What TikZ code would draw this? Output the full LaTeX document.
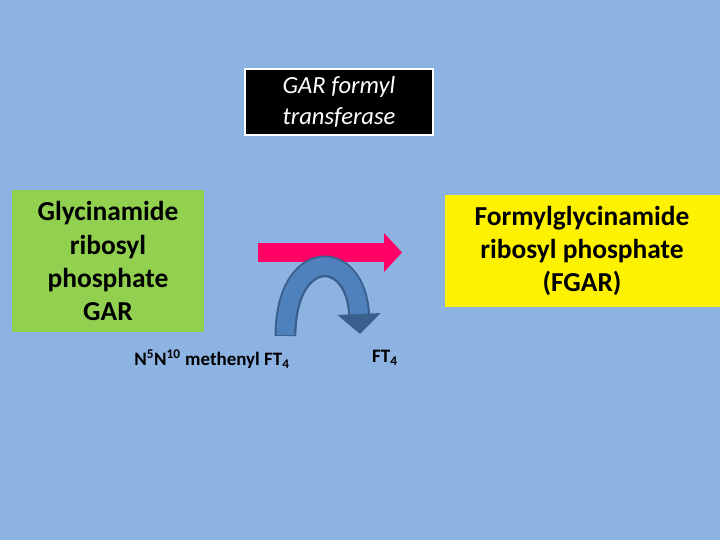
\documentclass[tikz,border=0pt]{standalone}
\usepackage{fontspec}
\setmainfont{Carlito}
\usetikzlibrary{arrows.meta}
\definecolor{bgblue}{HTML}{8DB3E2}
\definecolor{boxgreen}{HTML}{92D050}
\definecolor{arrowpink}{HTML}{FF0066}
\definecolor{curveblue}{HTML}{4F81BD}
\definecolor{curveedge}{HTML}{3A5F8C}
\tikzset{
  px/.style={x=0.025cm,y=-0.025cm},
  substrate/.style={font=\fontsize{19.5}{23.5}\selectfont\bfseries, align=center, inner sep=0pt},
  label/.style={font=\fontsize{13.5}{15}\selectfont\bfseries, inner sep=0pt}
}
\begin{document}
\begin{tikzpicture}[px]
  \fill[bgblue] (0,0) rectangle (720,540);
  \useasboundingbox (0,0) rectangle (720,540);

  % enzyme box
  \draw[white, line width=2pt, fill=black] (245,69) rectangle (433,135);
  \node (enzyme) [font=\fontsize{17.5}{22}\selectfont\itshape, text=white, align=center] at (339,102) {GAR formyl\\transferase};

  % substrate and product
  \fill[boxgreen] (12,190) rectangle (204,332);
  \node (gar) [substrate] at (108,261) {Glycinamide\\ribosyl\\phosphate\\GAR};
  \fill[yellow] (445,195) rectangle (720,307);
  \node (fgar) [substrate] at (582,251) {Formylglycinamide\\ribosyl phosphate\\(FGAR)};

  % main reaction arrow
  \coordinate (start) at (258,252.5);
  \coordinate (stop) at (402,252.5);
  \draw[arrowpink, line width=13.5pt, -{Triangle[length=0.45cm,width=0.95cm]}] (start) -- (stop);

  % cofactor curve
  \coordinate (cin) at (285.5,336);
  \coordinate (cout) at (360,334);
  \draw[curveedge, line width=15.5pt, -{Triangle[length=0.5cm,width=1.05cm]}]
    (cin) .. controls (285.5,247) and (356,247) .. (cout);
  \draw[curveblue, line width=12.5pt, shorten >=0.5cm]
    (285.5,335) .. controls (285.5,247) and (356,247) .. (cout);

  \node (donor) [label] at (212,359) {N\textsuperscript{5}N\textsuperscript{10} methenyl FT\textsubscript{4}};
  \node (ft) [label] at (385,358) {FT\textsubscript{4}};
\end{tikzpicture}
\end{document}
